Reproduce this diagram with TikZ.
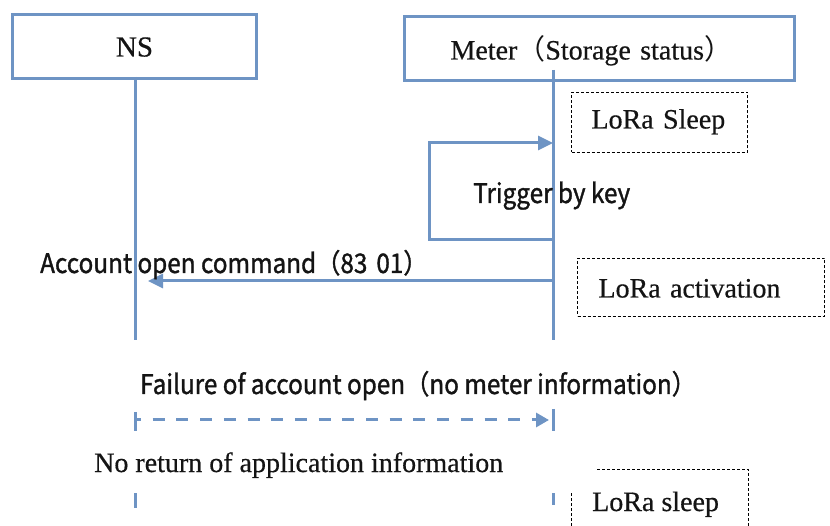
\documentclass[tikz,border=0pt]{standalone}
\usepackage{fontspec}
\setmainfont{Liberation Serif}[FakeBold=0.5]
\newfontfamily\cjk{Noto Sans CJK SC}
\newfontfamily\sansf{Noto Sans CJK SC}[FakeStretch=0.9,FakeBold=1.2]
\usetikzlibrary{arrows.meta}
\definecolor{lb}{RGB}{110,148,196}
\definecolor{tx}{RGB}{20,20,20}
\begin{document}
\begin{tikzpicture}[x=1pt,y=-1pt,
  box/.style={draw=lb,line width=3pt,anchor=north west,inner ysep=0pt,text=tx,
    font=\fontsize{28}{32}\selectfont},
  state/.style={draw=black,line width=1pt,dash pattern=on 3pt off 2pt,anchor=north west,
    inner ysep=0pt,align=left,text=tx,font=\fontsize{28}{32}\selectfont},
  life/.style={draw=lb,line width=3pt},
  msg/.style={draw=lb,line width=3pt,-{Triangle[length=15pt,width=14pt]}},
  ret/.style={draw=lb,line width=3pt,dash pattern=on 12pt off 11.7pt,dash phase=6pt,
    -{Triangle[length=13pt,width=14pt]}},
  serif/.style={anchor=base west,inner sep=0pt,text=tx,font=\fontsize{28}{32}\selectfont},
  sans/.style={anchor=base west,inner sep=0pt,text=tx,font=\sansf\fontsize{27}{30}\selectfont},
]
\useasboundingbox (0,0) rectangle (830,526);
\fill[white] (0,0) rectangle (830,526);

% actors
\node[box,inner xsep=0pt,text width=244pt,align=center,text height=42pt,text depth=22pt,
  font=\fontsize{29}{32}\selectfont]
  (ns) at (11,13) {NS};
\node[box,inner xsep=46pt,text width=298pt,align=left,text height=43pt,text depth=21pt]
  (meter) at (403,15) {Meter{\cjk （}Storage status{\cjk ）}};

% lifelines
\coordinate (nstop) at (135,77);
\coordinate (nsend) at (135,340);
\coordinate (mtop) at (553,70);
\coordinate (mend) at (553,340);
\draw[life] (nstop) -- (nsend);
\draw[life] (mtop) -- (mend);

% states
\node[state,inner xsep=20pt,text width=136pt,text height=36pt,text depth=24pt]
  (sleep1) at (571,92) {LoRa Sleep};
\node[state,inner xsep=21pt,text width=205pt,text height=39pt,text depth=19pt]
  (act) at (577,258) {LoRa activation};

% self trigger loop
\coordinate (lp1) at (553,240);
\coordinate (lp2) at (429,240);
\coordinate (lp3) at (429,143);
\coordinate (lp4) at (553,143);
\draw[msg] (lp1) -- (lp2) -- (lp3) -- (lp4);
\node[sans] (trig) at (473,203) {Trigger by key};

% account open command
\coordinate (ac1) at (553,281);
\coordinate (ac2) at (148,281);
\draw[msg] (ac1) -- (ac2);
\node[sans] (acc) at (40,273) {Account open command（83\,\,01）};

% failure (dashed return)
\node[sans] (fail) at (140,394) {Failure of account open（no meter information）};
\coordinate (f1) at (135,420);
\coordinate (f2) at (549,420);
\coordinate (ft1) at (135,412);
\coordinate (ft2) at (135,431);
\coordinate (fb1) at (553,409);
\coordinate (fb2) at (553,431);
\draw[ret] (f1) -- (f2);
\draw[life] (ft1) -- (ft2);
\draw[life] (fb1) -- (fb2);

\node[serif] (noret) at (94,472) {No return of application information};

% continuation ticks
\coordinate (n1) at (135,493);
\coordinate (n2) at (135,508);
\coordinate (m1) at (553,493);
\coordinate (m2) at (553,505);
\draw[life] (n1) -- (n2);
\draw[life] (m1) -- (m2);

% bottom LoRa sleep box (cut at the lower edge)
\coordinate (s1) at (571,526);
\coordinate (s2) at (571,492);
\coordinate (s3) at (597,469);
\coordinate (s4) at (748,469);
\coordinate (s5) at (748,526);
\draw[draw=black,line width=1pt,dash pattern=on 3pt off 2pt] (s1) -- (s2);
\draw[draw=black,line width=1pt,dash pattern=on 3pt off 2pt] (s3) -- (s4) -- (s5);
\node[serif] (sleep2) at (592,511) {LoRa sleep};
\end{tikzpicture}
\end{document}
